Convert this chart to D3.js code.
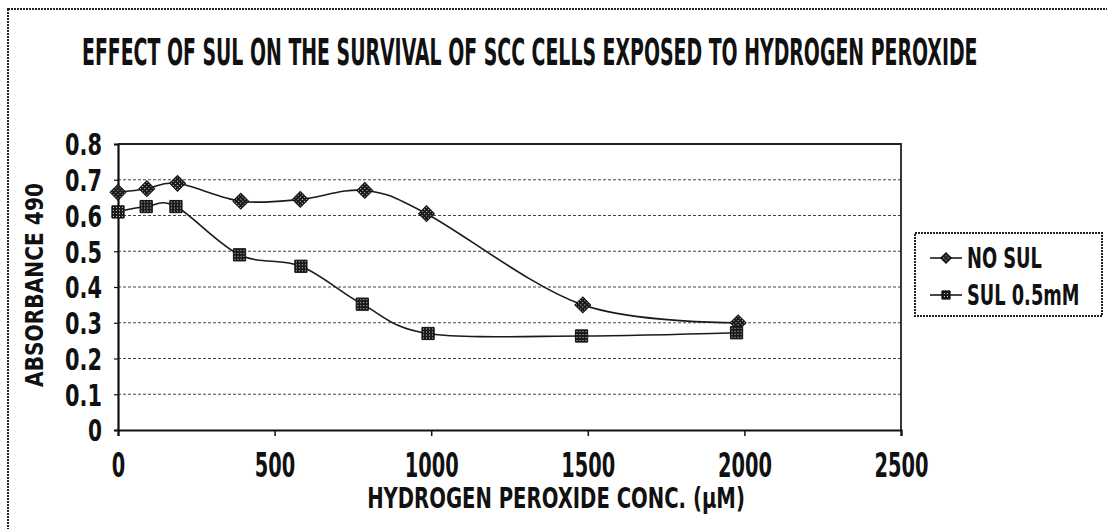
<!DOCTYPE html>
<html>
<head>
<meta charset="utf-8">
<script src="https://cdn.jsdelivr.net/npm/d3@7"></script>
<style>
  body { margin: 0; background: #fff; }
  text { font-family: 'DejaVu Sans', 'Liberation Sans', sans-serif; font-weight: bold; fill: #111; }
</style>
</head>
<body>
<svg id="chart" width="1107" height="529"></svg>
<script>
// chart values
const concNoSul = [0, 92, 190, 392, 582, 788, 985, 1484, 1980];
const absNoSul = [0.665, 0.675, 0.69, 0.64, 0.645, 0.67, 0.605, 0.35, 0.30];
const concSul = [0, 90, 185, 388, 584, 780, 990, 1480, 1975];
const absSul = [0.61, 0.625, 0.625, 0.49, 0.458, 0.352, 0.27, 0.263, 0.272];
const xTicks = [0, 500, 1000, 1500, 2000, 2500];
const yTicks = [0, 0.1, 0.2, 0.3, 0.4, 0.5, 0.6, 0.7, 0.8];
const seriesNames = ['NO SUL', 'SUL 0.5mM'];

const svg = d3.select('#chart');
const width = 1107, height = 529;

// squeeze a text horizontally so it takes the given width (condensed look)
function squeeze(sel, tx, ty, w) {
    sel.each(function () {
        let t = d3.select(this);
        let natural = this.getComputedTextLength();
        let s = natural > 0 ? w / natural : 1;
        t.attr('x', 0).attr('y', 0)
            .attr('transform', 'translate(' + tx + ',' + ty + ') scale(' + s + ',1)');
    });
}

// halftone fill for markers
const defs = svg.append('defs');
const pat = defs.append('pattern')
    .attr('id', 'dots')
    .attr('patternUnits', 'userSpaceOnUse')
    .attr('width', 3).attr('height', 3);
pat.append('rect').attr('width', 3).attr('height', 3).attr('fill', '#1a1a1a');
pat.append('rect').attr('x', 1).attr('y', 1).attr('width', 1).attr('height', 1).attr('fill', '#ccc');

// outer frame
svg.append('rect')
    .attr('x', 8).attr('y', 9)
    .attr('width', width).attr('height', height)
    .attr('fill', 'none')
    .attr('stroke', '#222')
    .attr('stroke-width', 2)
    .attr('stroke-dasharray', '2,1');

let x = d3.scaleLinear().domain([0, 2500]).range([118, 901]);
let y = d3.scaleLinear().domain([0, 0.8]).range([430, 144]);

// title
svg.append('text')
    .style('font-size', '37px')
    .text('EFFECT OF SUL ON THE SURVIVAL OF SCC CELLS EXPOSED TO HYDROGEN PEROXIDE')
    .call(squeeze, 82, 65, 896);

// grid lines
svg.append('g')
    .selectAll('line')
    .data(yTicks.filter(d => d > 0 && d < 0.8))
    .enter()
    .append('line')
    .attr('x1', x(0)).attr('x2', x(2500))
    .attr('y1', d => y(d)).attr('y2', d => y(d))
    .attr('stroke', '#444')
    .attr('stroke-width', 1.2)
    .attr('stroke-dasharray', '3,2');

// plot frame (top and right)
svg.append('path')
    .attr('d', 'M' + x(0) + ',' + y(0.8) + ' L' + x(2500) + ',' + y(0.8) + ' L' + x(2500) + ',' + y(0))
    .attr('fill', 'none')
    .attr('stroke', '#222')
    .attr('stroke-width', 1.8);

// axes
let xAxis = svg.append('g')
    .attr('transform', 'translate(0,' + y(0) + ')')
    .call(d3.axisBottom(x).tickValues(xTicks).tickSize(6).tickFormat(d3.format('d')));
xAxis.select('.domain').attr('stroke', '#111').attr('stroke-width', 2.2);
xAxis.selectAll('.tick line').attr('stroke', '#111').attr('stroke-width', 1.5);
xAxis.selectAll('.tick text')
    .attr('dy', null)
    .style('font-size', '34px')
    .each(function (d) {
        d3.select(this).call(squeeze, 0, 47, String(d).length * 13.5);
    });

let yAxis = svg.append('g')
    .attr('transform', 'translate(' + x(0) + ',0)')
    .call(d3.axisLeft(y).tickValues(yTicks).tickSize(4).tickFormat(d => d === 0 ? '0' : d3.format('.1f')(d)));
yAxis.select('.domain').attr('stroke', '#111').attr('stroke-width', 2.2);
yAxis.selectAll('.tick line').attr('stroke', '#111').attr('stroke-width', 1.2);
yAxis.selectAll('.tick text')
    .attr('dy', '0.36em')
    .style('font-size', '30px')
    .each(function (d) {
        d3.select(this).call(squeeze, -16, 0, d === 0 ? 14 : 37);
    });

// axis titles
svg.append('text')
    .attr('text-anchor', 'middle')
    .style('font-size', '28px')
    .text('HYDROGEN PEROXIDE CONC. (\u03BCM)')
    .call(squeeze, 556, 508, 378);

svg.append('g')
    .attr('transform', 'translate(43,285) rotate(-90)')
    .append('text')
    .attr('text-anchor', 'middle')
    .style('font-size', '25px')
    .text('ABSORBANCE 490')
    .call(squeeze, 0, 0, 204);

// series
let line = d3.line()
    .x(d => x(d[0]))
    .y(d => y(d[1]))
    .curve(d3.curveCardinal.tension(0));

let series = [
    { name: seriesNames[0], shape: d3.symbolSquare, size: 125, rot: 45, pts: d3.zip(concNoSul, absNoSul) },
    { name: seriesNames[1], shape: d3.symbolSquare, size: 150, rot: 0, pts: d3.zip(concSul, absSul) }
];

series.forEach(s => {
    svg.append('path')
        .attr('d', line(s.pts))
        .attr('fill', 'none')
        .attr('stroke', '#1a1a1a')
        .attr('stroke-width', 1.6);
    svg.append('g')
        .selectAll('path')
        .data(s.pts)
        .enter()
        .append('path')
        .attr('transform', d => 'translate(' + x(d[0]) + ',' + y(d[1]) + ') rotate(' + s.rot + ')')
        .attr('d', d3.symbol().type(s.shape).size(s.size))
        .attr('fill', 'url(#dots)')
        .attr('stroke', '#111')
        .attr('stroke-width', 1);
});

// legend
let legend = svg.append('g');
legend.append('rect')
    .attr('x', 915).attr('y', 233)
    .attr('width', 187).attr('height', 83)
    .attr('fill', '#fff')
    .attr('stroke', '#222')
    .attr('stroke-width', 2)
    .attr('stroke-dasharray', '2,1');

series.forEach((s, i) => {
    let ly = 258 + i * 37;
    legend.append('line')
        .attr('x1', 930).attr('x2', 962)
        .attr('y1', ly).attr('y2', ly)
        .attr('stroke', '#1a1a1a')
        .attr('stroke-width', 1.6);
    legend.append('path')
        .attr('transform', 'translate(946,' + ly + ') rotate(' + s.rot + ')')
        .attr('d', d3.symbol().type(s.shape).size(s.size * 0.45))
        .attr('fill', 'url(#dots)')
        .attr('stroke', '#111');
    legend.append('text')
        .style('font-size', '29px')
        .text(s.name)
        .call(squeeze, 967, ly + 10, s.name.length * 12.5);
});
</script>
</body>
</html>
